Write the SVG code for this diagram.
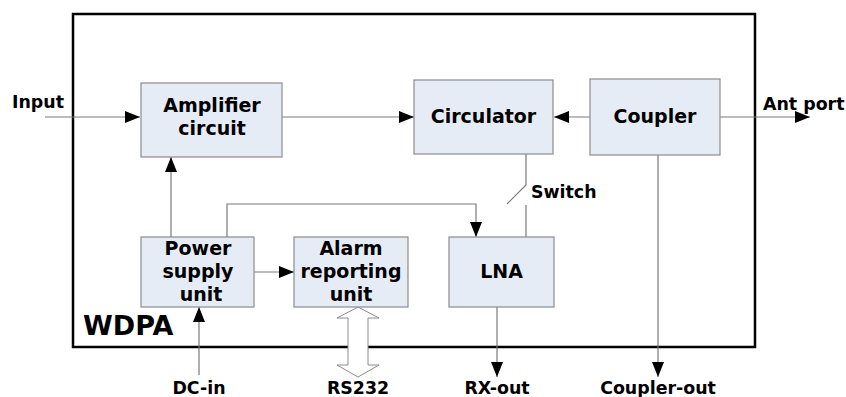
<svg xmlns="http://www.w3.org/2000/svg" width="846" height="397" viewBox="0 0 846 397">
<style>
.box{fill:#E6ECF6;stroke:#8C8C8C;stroke-width:1.2}
.t{font-family:"DejaVu Sans",Verdana,sans-serif;font-weight:bold;font-size:19px;fill:#000;text-anchor:middle}
.l{font-family:"DejaVu Sans",Verdana,sans-serif;font-weight:bold;font-size:17.4px;fill:#000}
.c{fill:none;stroke:#7A7A7A;stroke-width:1.2}
</style>
<defs>
<marker id="ah" markerUnits="userSpaceOnUse" markerWidth="16" markerHeight="12" viewBox="0 0 16 12" refX="15" refY="6" orient="auto">
<path d="M0,0 L15,6 L0,12 Z" fill="#000"/>
</marker>
</defs>
<rect id="wdpa" x="73" y="14" width="682" height="333" fill="#fff" stroke="#000" stroke-width="2.5"/>
<text class="l" x="83" y="335" style="font-size:27px">WDPA</text>
<g id="connectors">
<line class="c" x1="45" y1="117" x2="140" y2="117" marker-end="url(#ah)"/>
<line class="c" x1="282" y1="117" x2="414" y2="117" marker-end="url(#ah)"/>
<line class="c" x1="590" y1="117" x2="554" y2="117" marker-end="url(#ah)"/>
<line class="c" x1="720" y1="117" x2="810" y2="117" marker-end="url(#ah)"/>
<line class="c" x1="171" y1="237" x2="171" y2="157" marker-end="url(#ah)"/>
<polyline class="c" points="227,237 227,204 476,204 476,237" marker-end="url(#ah)"/>
<line class="c" x1="254" y1="272" x2="294" y2="272" marker-end="url(#ah)"/>
<line class="c" x1="199" y1="375" x2="199" y2="307" marker-end="url(#ah)"/>
<line class="c" x1="497" y1="307" x2="497" y2="377" marker-end="url(#ah)"/>
<line class="c" x1="658" y1="155" x2="658" y2="377" marker-end="url(#ah)"/>
<polyline class="c" points="526,154 526,185 507,204"/>
<line class="c" x1="526" y1="205" x2="526" y2="237"/>
<polygon points="358,307 379,318 368,318 368,365 379,365 358,377 337,365 348,365 348,318 337,318" fill="#fff" stroke="#8C8C8C" stroke-width="1"/>
</g>
<g id="amplifier"><rect class="box" x="141" y="83" width="141" height="74"/><text class="t" x="212" y="112">Amplifier</text><text class="t" x="212" y="135">circuit</text></g>
<g id="circulator"><rect class="box" x="414" y="80" width="139" height="74"/><text class="t" x="483.5" y="123">Circulator</text></g>
<g id="coupler"><rect class="box" x="590" y="79" width="130" height="76"/><text class="t" x="655" y="123">Coupler</text></g>
<g id="power"><rect class="box" x="141" y="237" width="113" height="70"/><text class="t" x="198" y="255">Power</text><text class="t" x="198" y="278">supply</text><text class="t" x="201" y="301">unit</text></g>
<g id="alarm"><rect class="box" x="294" y="237" width="114" height="70"/><text class="t" x="351" y="255">Alarm</text><text class="t" x="351" y="278">reporting</text><text class="t" x="351" y="301">unit</text></g>
<g id="lna"><rect class="box" x="449" y="237" width="105" height="70"/><text class="t" x="501.5" y="278">LNA</text></g>
<g id="labels">
<text class="l" x="12" y="108">Input</text>
<text class="l" x="763" y="110">Ant port</text>
<text class="l" x="531" y="198">Switch</text>
<text class="l" x="199" y="394" text-anchor="middle">DC-in</text>
<text class="l" x="358" y="394" text-anchor="middle">RS232</text>
<text class="l" x="497" y="394" text-anchor="middle">RX-out</text>
<text class="l" x="658" y="394" text-anchor="middle">Coupler-out</text>
</g>
</svg>
